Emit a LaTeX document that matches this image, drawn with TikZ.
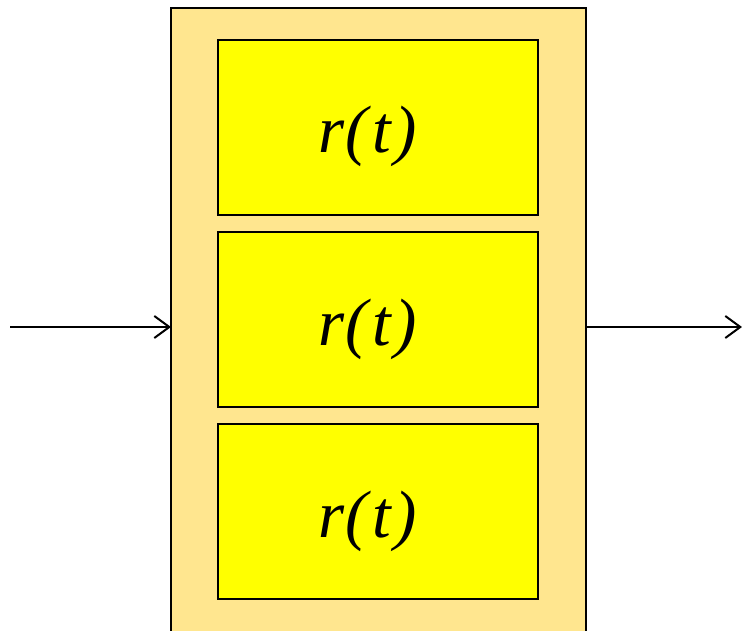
\documentclass[tikz,border=0pt]{standalone}
\usepackage{fontspec}
\setmainfont{Liberation Serif}
\usetikzlibrary{arrows.meta}
\definecolor{outerfill}{HTML}{FFE68F}
\definecolor{innerfill}{HTML}{FFFF00}
\newcommand{\rt}{r\kern1pt(\kern5pt t\kern3pt)}
\begin{document}
\begin{tikzpicture}[x=1pt,y=-1pt,
  outerbox/.style={draw=black,line width=2pt,fill=outerfill},
  stagebox/.style={draw=black,line width=2pt,fill=innerfill},
  stagelabel/.style={anchor=base west,inner sep=0pt,font=\fontsize{67}{70}\selectfont\itshape},
  signal/.style={draw=black,line width=2pt,-{Straight Barb[length=15pt,width=22pt,line width=2pt]}}]
\useasboundingbox (0,0) rectangle (742,631);
% enclosing block, running past the lower edge
\begin{scope}
\clip (0,0) rectangle (742,631);
\path[outerbox] (171,8) rectangle (586,650);
\end{scope}
\coordinate (inL) at (171,327);
\coordinate (outR) at (586,327);
% three stacked stages
\path[stagebox] (218,40) rectangle (538,215);
\path[stagebox] (218,232) rectangle (538,407);
\path[stagebox] (218,424) rectangle (538,599);
\node[stagelabel] (s1) at (318,153) {\rt};
\node[stagelabel] (s2) at (318,345) {\rt};
\node[stagelabel] (s3) at (318,537) {\rt};
% input and output signals
\coordinate (src) at (10,327);
\coordinate (dst) at (742,327);
\draw[signal] (src) -- (inL);
\draw[signal] (outR) -- (dst);
\end{tikzpicture}
\end{document}
